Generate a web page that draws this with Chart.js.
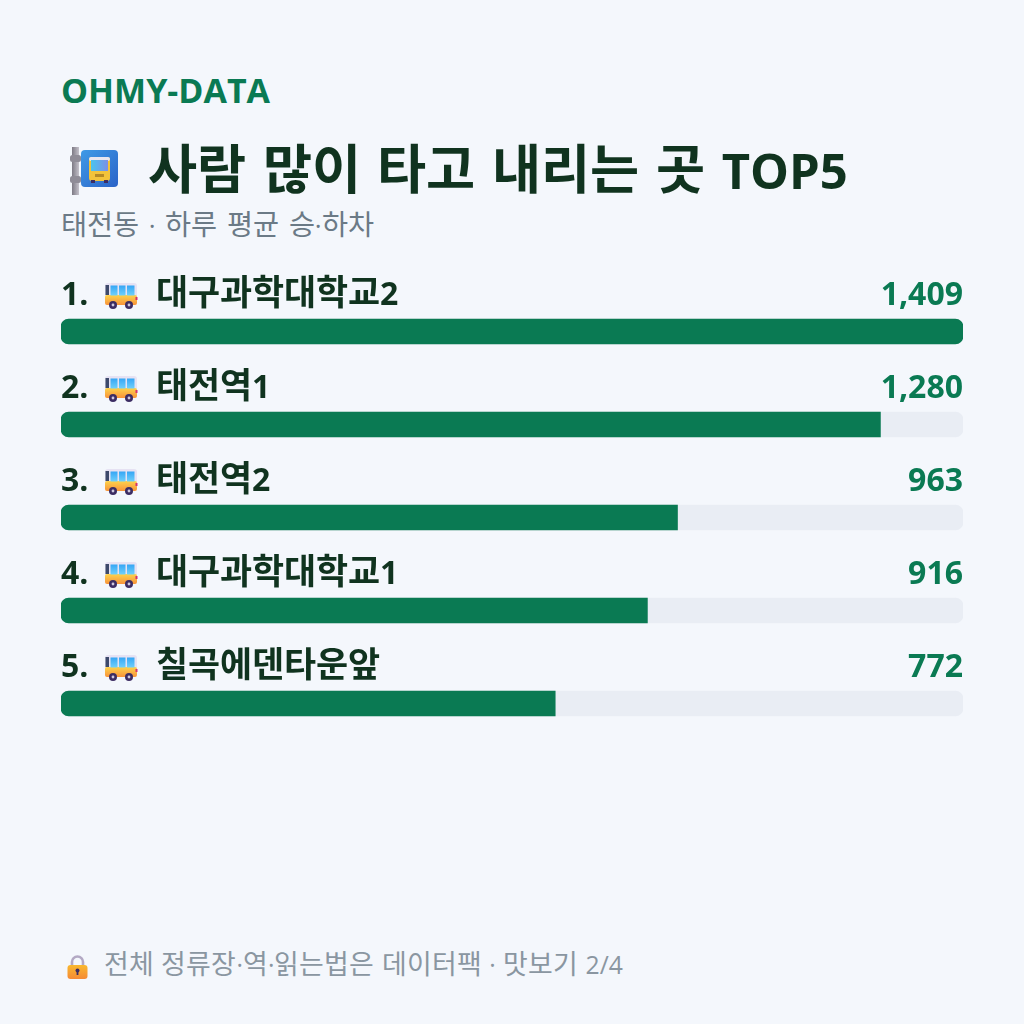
<!DOCTYPE html>
<html lang="ko">
<head>
<meta charset="utf-8">
<title>OHMY-DATA</title>
<script src="https://cdn.jsdelivr.net/npm/chart.js@4/dist/chart.umd.min.js"></script>
<style>
  @font-face { font-family: "KR"; src: local("Noto Sans CJK KR Bold"); font-weight: 700; size-adjust: 109%; unicode-range: U+AC00-D7A3; }
  @font-face { font-family: "KR"; src: local("Noto Sans CJK KR"), local("Noto Sans CJK KR Regular"); font-weight: 400; size-adjust: 109%; unicode-range: U+AC00-D7A3; }
  html, body { margin: 0; padding: 0; width: 1024px; height: 1024px; overflow: hidden; background: #f4f7fc; }
  body { position: relative; font-family: "KR", "Open Sans", "Noto Sans CJK KR", sans-serif; }
  .t { position: absolute; white-space: nowrap; line-height: 1; }
  #brand { left: 61px; top: 73px; font-size: 34px; font-weight: 700; color: #0a7a53; }
  #title { left: 148px; top: 146px; font-size: 49px; font-weight: 700; color: #10331f; word-spacing: 4px; }
  #sub { left: 61px; top: 212px; font-size: 26px; font-weight: 400; color: #6b7a86; word-spacing: 3px; }
  #foot { left: 104px; top: 953px; font-size: 24.7px; font-weight: 400; color: #8a96a1; word-spacing: 1px; }
  .rank, .name, .val { position: absolute; white-space: nowrap; line-height: 1; font-size: 32px; font-weight: 700; color: #10331f; }
  .val { color: #0a7a53; text-align: right; }
  svg.i { position: absolute; }
  #wrap { position: absolute; left: 61px; top: 285px; width: 902px; height: 465px; }
</style>
</head>
<body>
<svg class="i" style="left:68px;top:146px" width="52" height="50" viewBox="0 0 52 50">
  <defs>
    <linearGradient id="pole" x1="0" x2="1" y1="0" y2="0"><stop offset="0" stop-color="#7d7a85"/><stop offset="1" stop-color="#c4c1ca"/></linearGradient>
    <linearGradient id="sign" x1="0" x2="1" y1="0" y2="1"><stop offset="0" stop-color="#3f9ae6"/><stop offset="1" stop-color="#2a63c8"/></linearGradient>
    <linearGradient id="glass" x1="0" x2="1" y1="0" y2="0"><stop offset="0" stop-color="#4ac4ee"/><stop offset="1" stop-color="#7b8fe8"/></linearGradient>
  </defs>
  <rect x="4" y="1" width="7" height="48" fill="url(#pole)"/>
  <rect x="2" y="9" width="11" height="7" rx="2.5" fill="#8f8c97"/>
  <rect x="2" y="30" width="11" height="7" rx="2.5" fill="#8f8c97"/>
  <rect x="13" y="4" width="37" height="37" rx="4" fill="url(#sign)"/>
  <rect x="21" y="11" width="21" height="24" rx="3" fill="#f3c33a"/>
  <rect x="21" y="11" width="21" height="4" rx="2" fill="#e8e6f0"/>
  <rect x="23" y="14" width="17" height="11" fill="url(#glass)"/>
  <rect x="27" y="28" width="9" height="3" fill="#b68a25"/>
  <rect x="23" y="34" width="4" height="3" fill="#3c2d63"/><rect x="36" y="34" width="4" height="3" fill="#3c2d63"/>
</svg>
<div class="t" id="brand">OHMY-DATA</div>
<div class="t" id="title">사람 많이 타고 내리는 곳 TOP5</div>
<div class="t" id="sub">태전동 · 하루 평균 승·하차</div>
<div id="wrap"><canvas id="c" width="902" height="465"></canvas></div>
<svg class="i" style="left:66px;top:954px" width="23" height="26" viewBox="0 0 23 26">
  <defs><linearGradient id="lk" x1="0" x2="0" y1="0" y2="1"><stop offset="0" stop-color="#f9b82e"/><stop offset="1" stop-color="#f58a36"/></linearGradient></defs>
  <path d="M6 12V8a5.5 5.5 0 0 1 11 0v4" fill="none" stroke="#b3a9c4" stroke-width="2.6"/>
  <rect x="1.5" y="11" width="20" height="14" rx="3" fill="url(#lk)"/>
  <circle cx="11.5" cy="16.5" r="2" fill="#3c2d63"/><rect x="10.6" y="17" width="1.8" height="4" fill="#3c2d63"/>
</svg>
<div class="t" id="foot">전체 정류장·역·읽는법은 데이터팩 · 맛보기 2/4</div>
<script>
// Ridership table: top five stops, average daily boardings and alightings
const stopNames = ["대구과학대학교2", "태전역1", "태전역2", "대구과학대학교1", "칠곡에덴타운앞"];
const riders = [1409, 1280, 963, 916, 772];
const scaleMax = 1409;
const trackValues = [1409, 1409, 1409, 1409, 1409];

const GREEN = "#0a7a53";
const TRACK = "#e9edf4";

const busIcon = `<svg width="34" height="28" viewBox="0 0 34 28" style="display:block">
  <defs><linearGradient id="bb" x1="0" x2="0" y1="0" y2="1"><stop offset="0" stop-color="#fdd34c"/><stop offset="1" stop-color="#f8933a"/></linearGradient>
  <linearGradient id="win" x1="0" x2="0" y1="0" y2="1"><stop offset="0" stop-color="#35a6f5"/><stop offset="1" stop-color="#6fd0fb"/></linearGradient></defs>
  <rect x="1" y="1" width="32" height="20" rx="3" fill="#e6e2f3"/>
  <rect x="1" y="13" width="32" height="10" rx="2" fill="url(#bb)"/>
  <rect x="1.5" y="3" width="3.5" height="10" fill="#3d4a6b"/>
  <rect x="6.5" y="3.5" width="7" height="10" fill="url(#win)"/>
  <rect x="15" y="3.5" width="6.5" height="10" fill="url(#win)"/>
  <rect x="23" y="3.5" width="7.5" height="10" fill="url(#win)"/>
  <rect x="31.5" y="15" width="2" height="3" fill="#d6336c"/>
  <circle cx="9" cy="23" r="4" fill="#3c2d63"/><circle cx="9" cy="23" r="1.4" fill="#cfc8de"/>
  <circle cx="25" cy="23" r="4" fill="#3c2d63"/><circle cx="25" cy="23" r="1.4" fill="#cfc8de"/>
</svg>`;

// Labels sit above each bar; their y comes from the category scale
const rowLabels = {
  id: "rowLabels",
  afterLayout(chart) {
    document.querySelectorAll(".row").forEach(n => n.remove());
    const y = chart.scales.y;
    const box = chart.canvas.parentNode;
    const left = box.offsetLeft, top = box.offsetTop, width = box.offsetWidth;
    const add = (html, style, cls) => {
      const d = document.createElement("div");
      d.className = "row " + cls;
      d.innerHTML = html;
      d.style.cssText = "position:absolute;" + style;
      document.body.appendChild(d);
    };
    stopNames.forEach((name, i) => {
      const mid = top + y.getPixelForValue(i) - 38;
      add(`${i + 1}.`, `left:${left}px;top:${mid - 17}px`, "rank");
      add(busIcon, `left:${left + 43}px;top:${mid - 12}px`, "");
      add(name, `left:${left + 95}px;top:${mid - 17}px`, "name");
      add(riders[i].toLocaleString("en-US"), `right:${1024 - left - width}px;top:${mid - 17}px`, "val");
    });
  }
};

new Chart(document.getElementById("c"), {
  type: "bar",
  data: {
    labels: stopNames,
    datasets: [
      {
        label: "승·하차",
        data: riders,
        backgroundColor: GREEN,
        barThickness: 25,
        order: 1,
        borderSkipped: false,
        borderRadius: ctx => {
          const full = ctx.raw >= scaleMax ? 8 : 0;
          return { topLeft: 8, bottomLeft: 8, topRight: full, bottomRight: full };
        }
      },
      {
        label: "track",
        data: trackValues,
        backgroundColor: TRACK,
        barThickness: 25,
        order: 2,
        borderSkipped: false,
        borderRadius: 8
      }
    ]
  },
  options: {
    indexAxis: "y",
    responsive: false,
    animation: false,
    layout: { padding: 0 },
    plugins: { legend: { display: false }, tooltip: { enabled: false } },
    scales: {
      x: { display: false, min: 0, max: scaleMax, stacked: false, grid: { display: false } },
      y: { display: false, stacked: true, grid: { display: false } }
    }
  },
  plugins: [rowLabels]
});
</script>
</body>
</html>
